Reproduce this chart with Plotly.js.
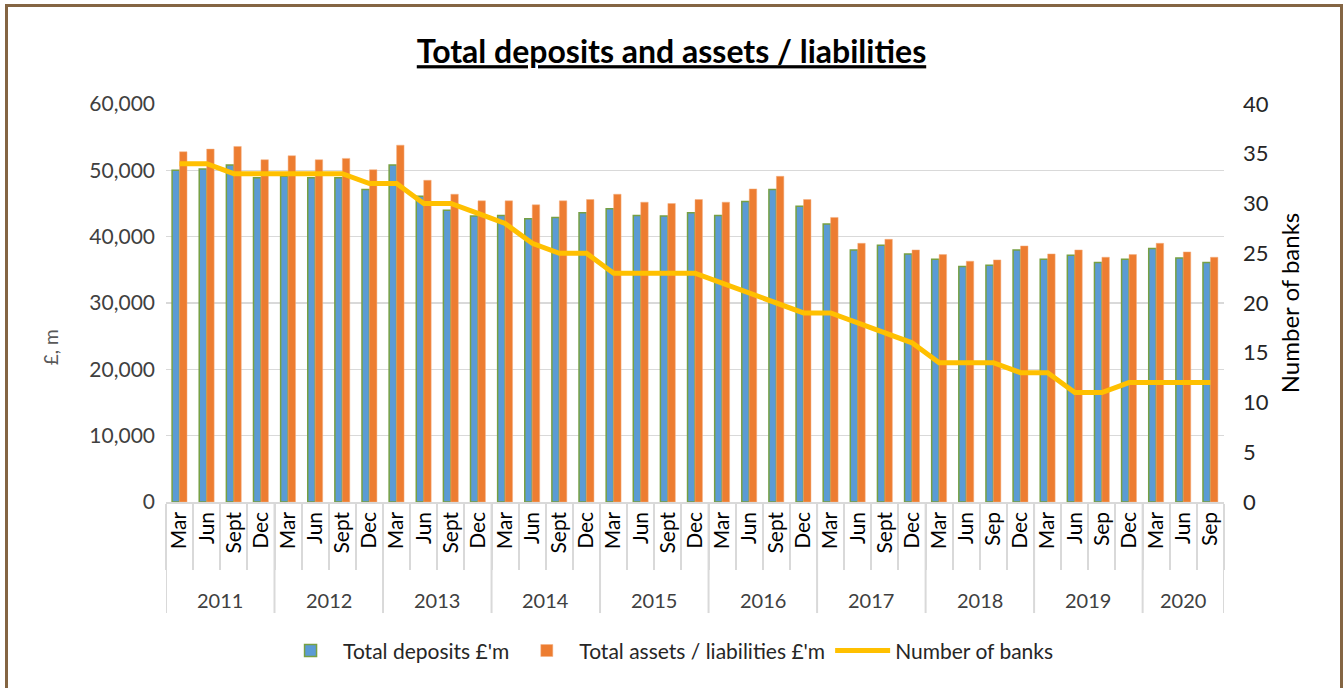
<!DOCTYPE html>
<html>
<head>
<meta charset="utf-8">
<script src="https://cdn.plot.ly/plotly-3.0.1.min.js"></script>
<style>
  html, body { margin: 0; padding: 0; background: #fff; }
  #wrap { position: relative; width: 1343px; height: 688px; }
  #chart { width: 1343px; height: 688px; }
  #frame { position: absolute; left: 5px; top: 4px; width: 1332px; height: 700px; border: 3px solid #846543; pointer-events: none; }
</style>
</head>
<body>
<div id="wrap">
  <div id="chart"></div>
  <div id="frame"></div>
</div>
<script>
const years = [
  '2011','2011','2011','2011',
  '2012','2012','2012','2012',
  '2013','2013','2013','2013',
  '2014','2014','2014','2014',
  '2015','2015','2015','2015',
  '2016','2016','2016','2016',
  '2017','2017','2017','2017',
  '2018','2018','2018','2018',
  '2019','2019','2019','2019',
  '2020','2020','2020'
];
const months = [
  'Mar','Jun','Sept','Dec',
  'Mar','Jun','Sept','Dec',
  'Mar','Jun','Sept','Dec',
  'Mar','Jun','Sept','Dec',
  'Mar','Jun','Sept','Dec',
  'Mar','Jun','Sept','Dec',
  'Mar','Jun','Sept','Dec',
  'Mar','Jun','Sep','Dec',
  'Mar','Jun','Sep','Dec',
  'Mar','Jun','Sep'
];
const deposits = [
  50000, 50200, 50800, 48900,
  49100, 48900, 48900, 47100,
  50800, 46100, 44000, 43100,
  43200, 42700, 42900, 43600,
  44200, 43200, 43100, 43600,
  43200, 45300, 47100, 44600,
  41900, 38000, 38700, 37400,
  36600, 35500, 35700, 38000,
  36600, 37200, 36100, 36600,
  38200, 36800, 36100
];
const assets = [
  52800, 53200, 53600, 51600,
  52200, 51600, 51800, 50100,
  53800, 48500, 46400, 45400,
  45400, 44800, 45400, 45600,
  46400, 45200, 45000, 45600,
  45200, 47200, 49100, 45600,
  42900, 39000, 39600, 38000,
  37300, 36300, 36500, 38600,
  37400, 38000, 36900, 37300,
  39000, 37700, 36900
];
const banks = [
  34, 34, 33, 33,
  33, 33, 33, 32,
  32, 30, 30, 29,
  28, 26, 25, 25,
  23, 23, 23, 23,
  22, 21, 20, 19,
  19, 18, 17, 16,
  14, 14, 14, 13,
  13, 11, 11, 12,
  12, 12, 12
];

const FONT = 'Lato, "Open Sans", "DejaVu Sans", sans-serif';
const GRID = '#d9d9d9';

// unique category ids (one per quarter), labelled by month
const cats = years.map((y, i) => y + '-' + months[i]);

const traces = [
  {
    type: 'bar', name: "Total deposits £'m", x: cats, y: deposits,
    marker: { color: '#5b9bd5', line: { color: '#77a043', width: 1.5 } },
    hoverinfo: 'skip'
  },
  {
    type: 'bar', name: "Total assets / liabilities £'m", x: cats, y: assets,
    marker: { color: '#ed7d31', line: { color: '#f4b183', width: 0.5 } },
    hoverinfo: 'skip'
  },
  {
    type: 'scatter', mode: 'lines', name: 'Number of banks', x: cats, y: banks,
    yaxis: 'y2', line: { color: '#ffc000', width: 5 },
    hoverinfo: 'skip'
  }
];

// year group labels and dividers (positions in category-index units)
const annotations = [];
const shapes = [];
const uniqYears = years.filter((y, i) => years.indexOf(y) === i);
uniqYears.forEach(y => {
  const first = years.indexOf(y);
  const last = years.lastIndexOf(y);
  annotations.push({
    text: y, xref: 'x', yref: 'paper', x: (first + last) / 2, y: -0.247,
    xanchor: 'center', yanchor: 'middle', showarrow: false,
    font: { family: FONT, size: 20, color: '#404040' }
  });
  shapes.push({
    type: 'line', xref: 'x', yref: 'paper', x0: first - 0.5, x1: first - 0.5,
    y0: 0, y1: -0.279, line: { color: GRID, width: 2 }
  });
});
shapes.push({
  type: 'line', xref: 'x', yref: 'paper', x0: years.length - 0.5, x1: years.length - 0.5,
  y0: 0, y1: -0.279, line: { color: GRID, width: 2 }
});
annotations.push({
  text: '£, m', xref: 'paper', yref: 'paper', x: -0.1096, y: 0.389,
  xanchor: 'center', yanchor: 'middle', textangle: -90, showarrow: false,
  font: { family: FONT, size: 19, color: '#595959' }
});

const layout = {
  width: 1343, height: 688,
  margin: { l: 166, r: 119, t: 104, b: 186 },
  paper_bgcolor: '#ffffff', plot_bgcolor: '#ffffff',
  font: { family: FONT, color: '#404040', size: 18 },
  title: {
    text: '<b><u>Total deposits and assets / liabilities</u></b>',
    x: 0.5, xref: 'container', xanchor: 'center',
    y: 52, yref: 'container', yanchor: 'middle',
    font: { family: FONT, size: 32, color: '#000000' }
  },
  barmode: 'group', bargap: 0.45, bargroupgap: 0,
  showlegend: true,
  legend: {
    orientation: 'h', x: 0.475, xanchor: 'center', y: -0.374, yanchor: 'middle',
    font: { family: FONT, size: 21, color: '#262626' },
    traceorder: 'normal', itemwidth: 55
  },
  xaxis: {
    type: 'category',
    range: [-0.5, cats.length - 0.5],
    tickmode: 'array', tickvals: cats, ticktext: months,
    tickangle: -90, tickson: 'boundaries',
    tickfont: { family: FONT, size: 21, color: '#000000' },
    showline: true, linecolor: GRID, linewidth: 1.5,
    ticks: 'outside', ticklen: 66, tickcolor: GRID, tickwidth: 2,
    showgrid: false, zeroline: false
  },
  yaxis: {
    range: [0, 60000], dtick: 10000, tickformat: ',',
    tickfont: { family: FONT, size: 21, color: '#404040' },
    showgrid: true, gridcolor: GRID, gridwidth: 1.5,
    zeroline: false, showline: false, ticks: '',
    ticklabelstandoff: 10
  },
  yaxis2: {
    range: [0, 40], dtick: 5, overlaying: 'y', side: 'right',
    tickfont: { family: FONT, size: 22, color: '#262626' },
    showgrid: false, zeroline: false, showline: false, ticks: '',
    ticklabelstandoff: 18,
    title: { text: 'Number of banks', font: { family: FONT, size: 24, color: '#000000' }, standoff: 14 }
  },
  annotations: annotations,
  shapes: shapes
};

Plotly.newPlot('chart', traces, layout, { displayModeBar: false, staticPlot: true });
</script>
</body>
</html>
